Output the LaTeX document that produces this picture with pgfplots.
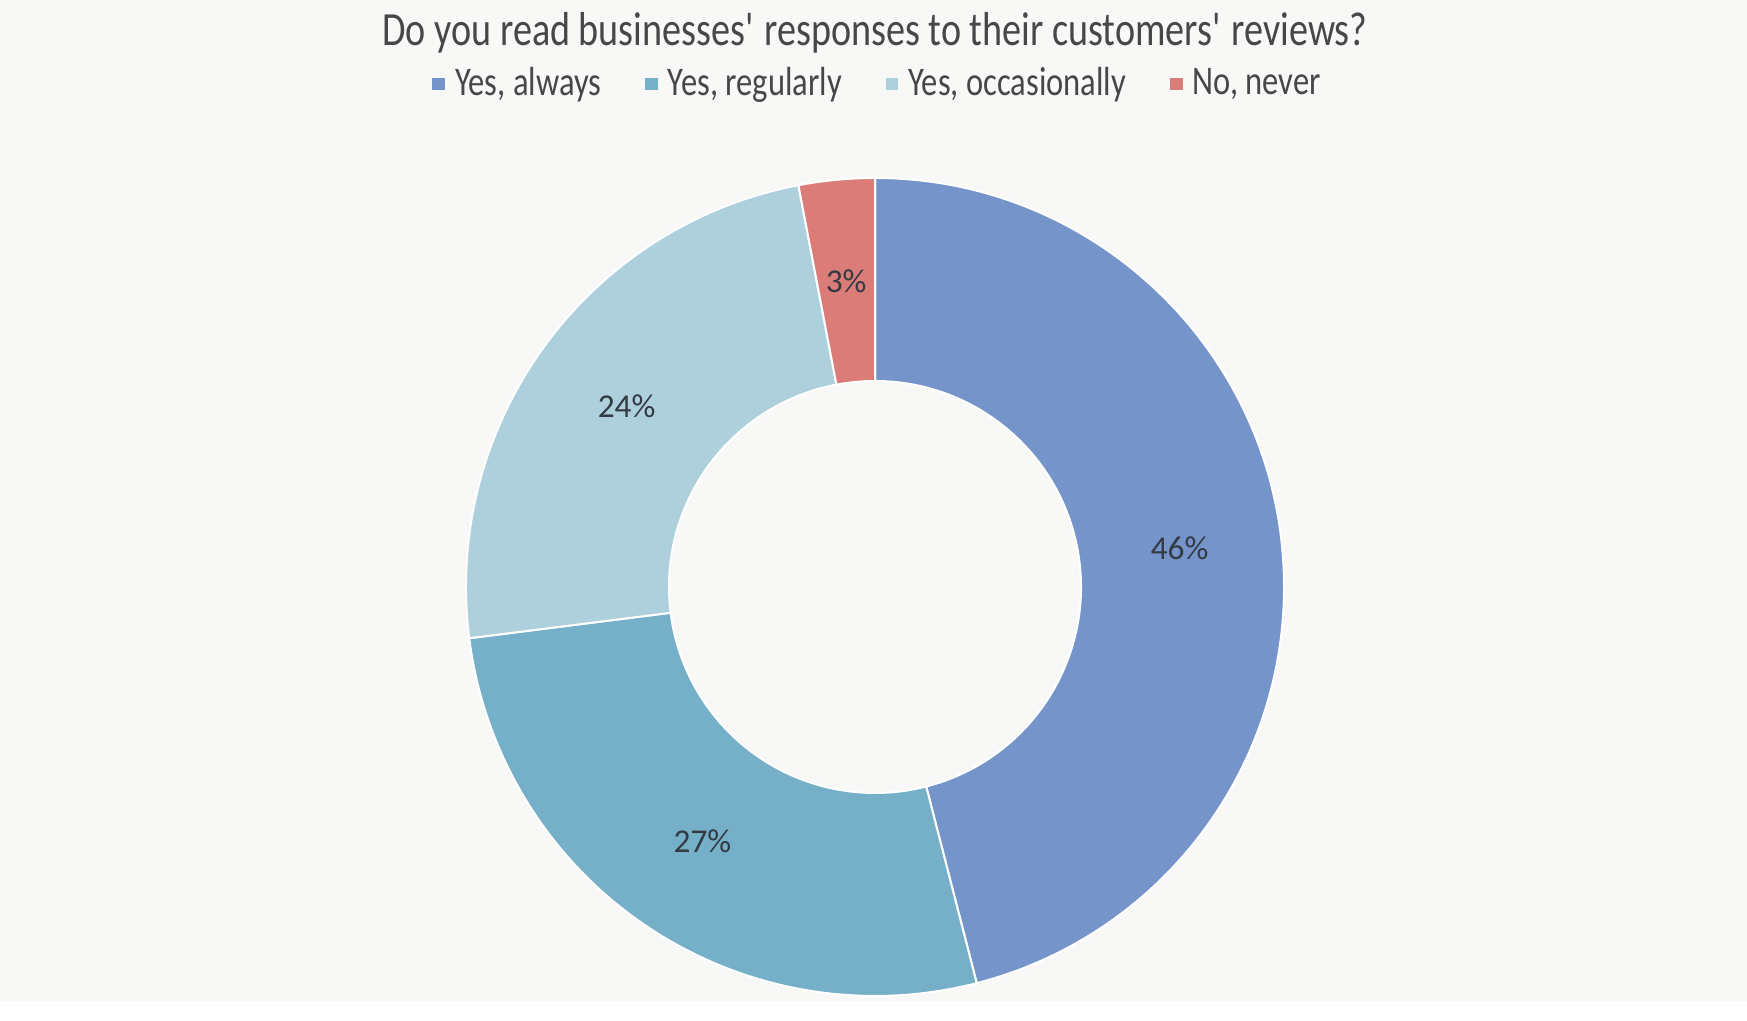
\documentclass[border=0pt]{standalone}
\usepackage{fontspec}
\setmainfont{Carlito}
\newfontfamily\narrow{Carlito}[FakeStretch=0.8]
\usepackage{pgfplots}
\usepackage{pgfplotstable}
\pgfplotsset{compat=1.18}

\definecolor{bg}{HTML}{F8F8F6}
\definecolor{always}{HTML}{7594CA}
\definecolor{regularly}{HTML}{76B0C8}
\definecolor{occasionally}{HTML}{AED0DC}
\definecolor{never}{HTML}{DC7C78}
\definecolor{txt}{HTML}{474747}
\definecolor{lbl}{HTML}{333A44}

% share of answers, clockwise from 12 o'clock
\pgfplotstableread{
name value col
always 46 always
regularly 27 regularly
occasionally 24 occasionally
never 3 never
}\slices

\begin{document}
\begin{tikzpicture}
\begin{axis}[
  x=0.3pt, y=0.3pt,
  xmin=0, xmax=1747, ymin=0, ymax=1001,
  hide axis, clip=false,
  legend columns=-1,
  legend image code/.code={\fill[#1] (0pt,-1.7pt) rectangle (3.4pt,1.7pt); \path (4.4pt,0pt);},
  legend style={at={(0.5037,0.916)}, anchor=center, draw=none, fill=none,
    font=\narrow\fontsize{12.2}{14}\selectfont, text=txt,
    /tikz/every even column/.append style={column sep=11.2pt}},
]
\fill[bg] (axis cs:0,0) rectangle (axis cs:1747,1001);
\addlegendimage{always}\addlegendentry{Yes, always}
\addlegendimage{regularly}\addlegendentry{Yes, regularly}
\addlegendimage{occasionally}\addlegendentry{Yes, occasionally}
\addlegendimage{never}\addlegendentry{No, never}

\node[text=txt, font=\narrow\fontsize{14.3}{17}\selectfont] at (axis cs:875,968)
  {Do you read businesses\textquotesingle\ responses to their customers\textquotesingle\ reviews?};

\pgfplotstablegetrowsof{\slices}
\pgfmathtruncatemacro\last{\pgfplotsretval-1}
\def\cum{0}
\pgfplotsforeachungrouped \i in {0,...,\last}{
  \pgfplotstablegetelem{\i}{value}\of\slices \let\v\pgfplotsretval
  \pgfplotstablegetelem{\i}{col}\of\slices \let\c\pgfplotsretval
  \pgfmathsetmacro\aone{90-3.6*\cum}
  \pgfmathsetmacro\atwo{90-3.6*(\cum+\v)}
  \pgfmathsetmacro\amid{(\aone+\atwo)/2}
  \pgfmathsetmacro\xo{875+409*cos(\aone)}
  \pgfmathsetmacro\yo{414+409*sin(\aone)}
  \pgfmathsetmacro\xi{875+206*cos(\atwo)}
  \pgfmathsetmacro\yi{414+206*sin(\atwo)}
  \pgfmathsetmacro\xl{875+307*cos(\amid)}
  \pgfmathsetmacro\yl{414+307*sin(\amid)}
  \edef\temp{\noexpand\fill[\c, draw=white, line width=0.6pt]
    (axis cs:\xo,\yo) arc[start angle=\aone, end angle=\atwo, radius=122.7pt]
    -- (axis cs:\xi,\yi) arc[start angle=\atwo, end angle=\aone, radius=61.8pt] -- cycle;}
  \temp
  \edef\temp{\noexpand\node[text=lbl, font=\noexpand\fontsize{10}{12}\noexpand\selectfont]
    at (axis cs:\xl,\yl) {\v\noexpand\%};}
  \temp
  \pgfmathsetmacro\cum{\cum+\v}
}
\end{axis}
\end{tikzpicture}
\end{document}
